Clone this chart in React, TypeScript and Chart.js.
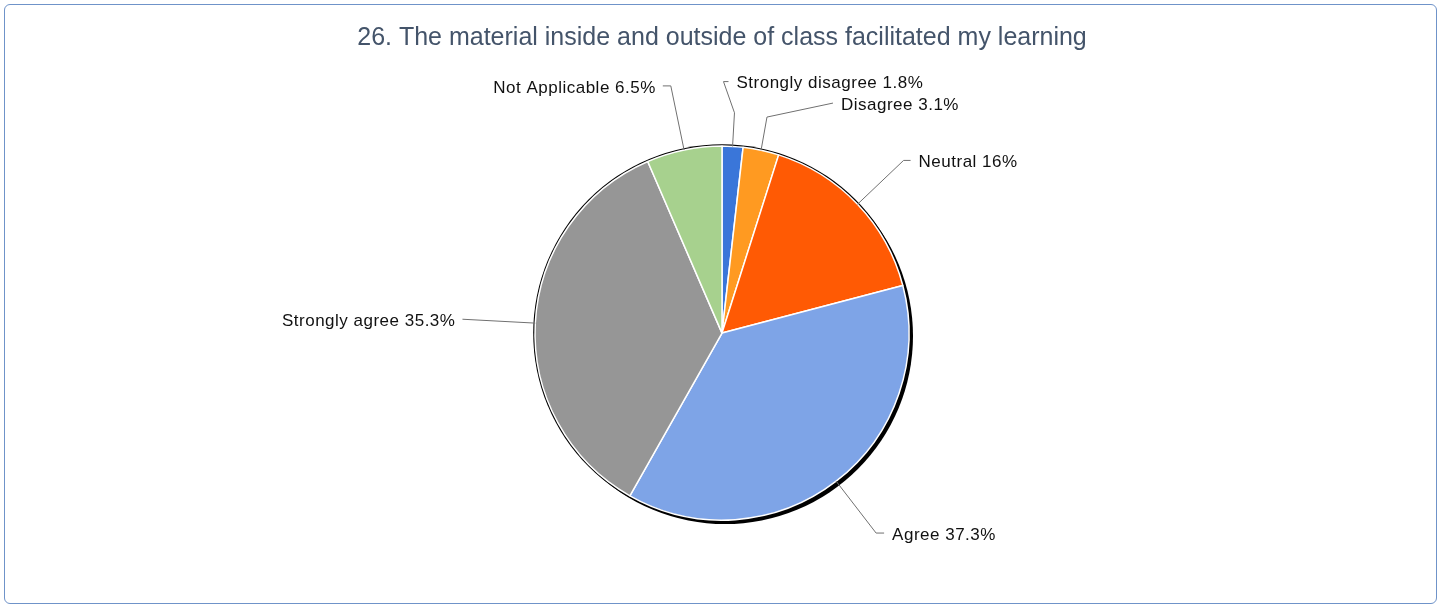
import React, { useEffect, useRef } from "react";
import { Chart, registerables } from "chart.js";

Chart.register(...registerables);

const TITLE = "26. The material inside and outside of class facilitated my learning";
const categories = ["Strongly disagree", "Disagree", "Neutral", "Agree", "Strongly agree", "Not Applicable"];
const values = [1.8, 3.1, 16, 37.3, 35.3, 6.5];
const valueLabels = ["1.8%", "3.1%", "16%", "37.3%", "35.3%", "6.5%"];
const colors = ["#3a76d9", "#ff9a21", "#ff5a04", "#7ea4e7", "#969696", "#a7d18e"];

// leader layout: elbow angle shift (deg), elbow radius factor, optional kink factor, horizontal length, end rise
const leaderShift = [-2.9, -0.3, 0, 0, 0, 0];
const leaderFactor = [1.345, 1.18, 1.34, 1.35, 1.39, 1.35];
const leaderKink = [1.18, 0, 0, 0, 0, 0];
const leaderHLen = [5, 66, 7, 8, 0, 8];
const leaderRise = [0, -14, 0, 0, 0, 0];

const pieDecor = {
  id: "pieDecor",
  beforeDatasetsDraw(chart: any) {
    const meta = chart.getDatasetMeta(0);
    const a = meta.data[0];
    if (!a) return;
    const { x, y, outerRadius } = a.getProps(["x", "y", "outerRadius"], true);
    const ctx = chart.ctx;
    ctx.save();
    ctx.fillStyle = "#000000";
    ctx.beginPath();
    ctx.arc(x + 3, y + 3, outerRadius + 1, 0, Math.PI * 2);
    ctx.fill();
    ctx.beginPath();
    ctx.arc(x, y, outerRadius + 1.8, 0, Math.PI * 2);
    ctx.fill();
    ctx.restore();
  },
  afterDatasetsDraw(chart: any) {
    const meta = chart.getDatasetMeta(0);
    const ctx = chart.ctx;
    ctx.save();
    ctx.font = "17px 'Liberation Sans', Arial, sans-serif";
    (ctx as any).letterSpacing = "0.5px";
    ctx.fillStyle = "#111111";
    ctx.strokeStyle = "#707070";
    ctx.lineWidth = 1;
    meta.data.forEach((arc: any, i: number) => {
      const { x, y, startAngle, endAngle, outerRadius } = arc.getProps(
        ["x", "y", "startAngle", "endAngle", "outerRadius"],
        true
      );
      const mid = (startAngle + endAngle) / 2;
      const ex = x + Math.cos(mid) * outerRadius;
      const ey = y + Math.sin(mid) * outerRadius;
      const ea = mid + (leaderShift[i] * Math.PI) / 180;
      const bx = x + Math.cos(ea) * outerRadius * leaderFactor[i];
      const by = y + Math.sin(ea) * outerRadius * leaderFactor[i];
      const right = Math.cos(mid) >= 0;
      const hx = bx + (right ? leaderHLen[i] : -leaderHLen[i]);
      const hy = by + leaderRise[i];
      ctx.beginPath();
      ctx.moveTo(ex, ey);
      if (leaderKink[i]) {
        ctx.lineTo(x + Math.cos(mid) * outerRadius * leaderKink[i], y + Math.sin(mid) * outerRadius * leaderKink[i]);
      }
      ctx.lineTo(bx, by);
      ctx.lineTo(hx, hy);
      ctx.stroke();
      const text = categories[i] + " " + valueLabels[i];
      ctx.textBaseline = "middle";
      ctx.textAlign = right ? "left" : "right";
      ctx.fillText(text, hx + (right ? 8 : -7), hy + 2);
    });
    ctx.restore();
  },
};

export default function App() {
  const ref = useRef<HTMLCanvasElement>(null);
  useEffect(() => {
    if (!ref.current) return;
    const chart = new Chart(ref.current, {
      type: "pie",
      data: {
        labels: categories,
        datasets: [
          {
            data: values,
            backgroundColor: colors,
            borderColor: "#ffffff",
            borderWidth: 1.5,
          },
        ],
      },
      options: {
        animation: false,
        responsive: false,
        radius: 187,
        layout: { padding: { top: 0, bottom: 58.8, left: 300, right: 297 } },
        plugins: {
          legend: { display: false },
          tooltip: { enabled: false },
          title: {
            display: true,
            text: TITLE,
            color: "#44546a",
            font: { family: "'Liberation Sans', Arial, sans-serif", size: 25, weight: "normal", lineHeight: 1.2 },
            padding: { top: 18, bottom: 69 },
          },
        },
      },
      plugins: [pieDecor],
    });
    return () => chart.destroy();
  }, []);
  return (
    <div
      style={{
        position: "absolute",
        left: 4,
        top: 4,
        width: 1433,
        height: 600,
        boxSizing: "border-box",
        border: "1px solid #6f93c9",
        borderRadius: 6,
        background: "#ffffff",
      }}
    >
      <canvas ref={ref} width={1431} height={598} style={{ display: "block" }} />
    </div>
  );
}
